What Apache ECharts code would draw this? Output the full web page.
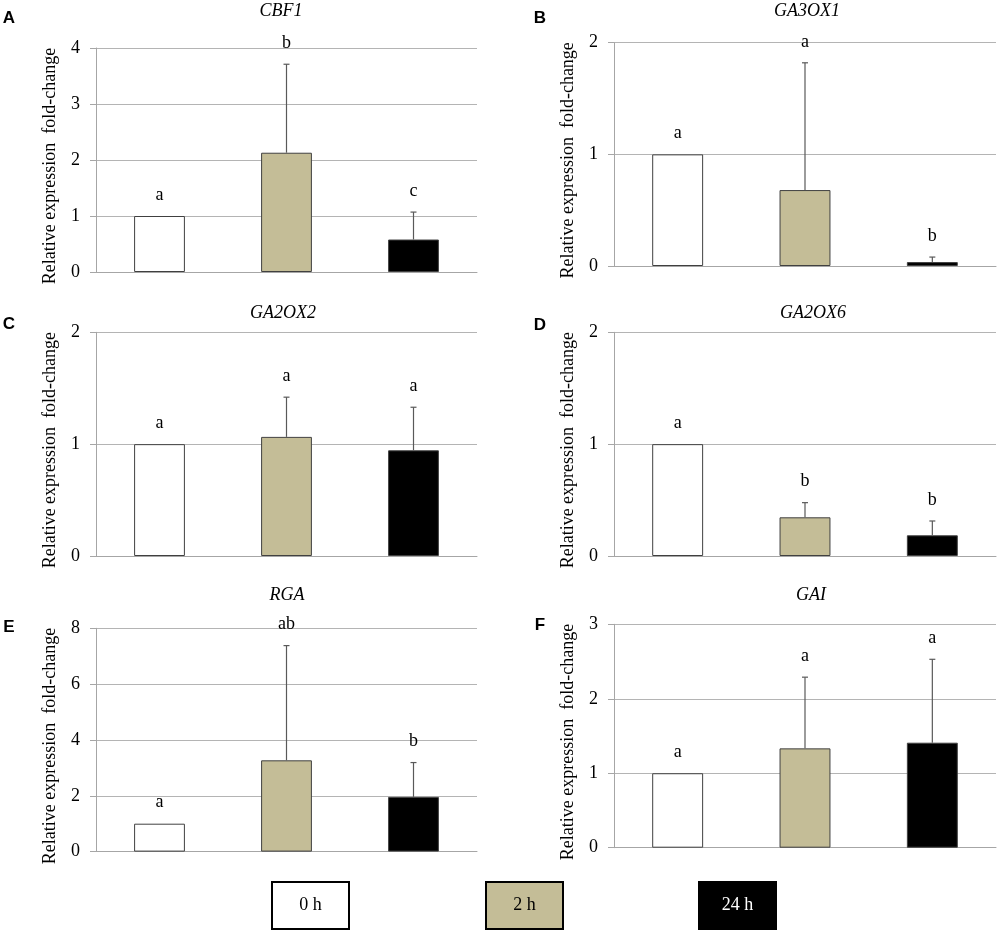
<!DOCTYPE html>
<html><head><meta charset="utf-8">
<script src="https://cdn.jsdelivr.net/npm/echarts@6/dist/echarts.min.js"></script>
<style>html,body{margin:0;padding:0;background:#fff}#c{width:1000px;height:934px}</style>
</head><body><div id="c"></div>
<script>
// ---- data ----
const categories = ['0 h', '2 h', '24 h'];
const genes = ['CBF1', 'GA3OX1', 'GA2OX2', 'GA2OX6', 'RGA', 'GAI'];
const panelLetters = ['A', 'B', 'C', 'D', 'E', 'F'];
const meanCBF1 = [1, 2.13, 0.58];
const errCBF1 = [0, 1.58, 0.49];
const meanGA3OX1 = [1, 0.68, 0.035];
const errGA3OX1 = [0, 1.14, 0.045];
const meanGA2OX2 = [1, 1.065, 0.945];
const errGA2OX2 = [0, 0.355, 0.385];
const meanGA2OX6 = [1, 0.346, 0.185];
const errGA2OX6 = [0, 0.131, 0.128];
const meanRGA = [1, 3.27, 1.96];
const errRGA = [0, 4.11, 1.23];
const meanGAI = [1, 1.334, 1.41];
const errGAI = [0, 0.956, 1.12];
const sigCBF1 = ['a', 'b', 'c'];
const sigGA3OX1 = ['a', 'a', 'b'];
const sigGA2OX2 = ['a', 'a', 'a'];
const sigGA2OX6 = ['a', 'b', 'b'];
const sigRGA = ['a', 'ab', 'b'];
const sigGAI = ['a', 'a', 'a'];
const yMax = [4, 2, 2, 2, 8, 3];
const yInterval = [1, 1, 1, 1, 2, 1];

const means = [meanCBF1, meanGA3OX1, meanGA2OX2, meanGA2OX6, meanRGA, meanGAI];
const errs = [errCBF1, errGA3OX1, errGA2OX2, errGA2OX6, errRGA, errGAI];
const sigs = [sigCBF1, sigGA3OX1, sigGA2OX2, sigGA2OX6, sigRGA, sigGAI];

// ---- layout / style ----
const barColors = ['#ffffff', '#c4bd97', '#000000'];
const gridBoxes = [
  {left: 96, top: 48, width: 381, height: 224},
  {left: 614, top: 42.7, width: 382, height: 223.3},
  {left: 96, top: 332.3, width: 381, height: 223.7},
  {left: 614, top: 332.3, width: 382, height: 223.7},
  {left: 96, top: 628.3, width: 381, height: 223.3},
  {left: 614, top: 624.3, width: 382, height: 223.4}
];
const titlePos = [[281, 11], [807, 11], [283, 313], [813, 313], [287, 595], [811, 595]];
const labelPos = [[9, 18], [540, 18], [9, 324], [540, 325], [9, 627], [540, 625]];
const serif = '"Liberation Serif", "Times New Roman", serif';
const sans = '"Liberation Sans", Arial, sans-serif';

const grid = [], xAxis = [], yAxis = [], series = [], graphic = [];
for (let p = 0; p < 6; p++) {
  grid.push(Object.assign({containLabel: false}, gridBoxes[p]));
  xAxis.push({
    type: 'category', gridIndex: p, data: categories,
    axisLine: {show: true, lineStyle: {color: '#a6a6a6', width: 1}},
    axisTick: {show: false}, axisLabel: {show: false}
  });
  yAxis.push({
    type: 'value', gridIndex: p, min: 0, max: yMax[p], interval: yInterval[p],
    name: 'Relative expression  fold-change', nameLocation: 'middle', nameGap: 37,
    nameTextStyle: {fontFamily: serif, fontSize: 18, color: '#000', padding: [0, 12, 0, 0]},
    axisLine: {show: true, lineStyle: {color: '#a6a6a6', width: 1}},
    axisTick: {show: true, length: 6, lineStyle: {color: '#a6a6a6'}},
    axisLabel: {fontFamily: serif, fontSize: 18, color: '#000', margin: 16},
    splitLine: {show: true, lineStyle: {color: '#b4b4b4', width: 1}}
  });
  series.push({
    type: 'bar', xAxisIndex: p, yAxisIndex: p, barWidth: '40%',
    data: means[p].map((v, i) => ({value: v, itemStyle: {color: barColors[i]}})),
    itemStyle: {borderColor: '#404040', borderWidth: 1},
    emphasis: {disabled: true}, animation: false
  });
  const letters = sigs[p];
  series.push({
    type: 'custom', xAxisIndex: p, yAxisIndex: p, z: 5, animation: false,
    encode: {x: 0, y: 1},
    data: means[p].map((v, i) => [i, v, errs[p][i]]),
    renderItem: function (params, api) {
      const i = api.value(0), m = api.value(1), e = api.value(2);
      const base = api.coord([i, m]);
      const top = api.coord([i, m + e]);
      const children = [];
      if (e > 0) {
        children.push({type: 'line', shape: {x1: base[0], y1: base[1], x2: top[0], y2: top[1]},
          style: {stroke: '#595959', lineWidth: 1.2}});
        children.push({type: 'line', shape: {x1: top[0] - 3, y1: top[1], x2: top[0] + 3, y2: top[1]},
          style: {stroke: '#595959', lineWidth: 1.2}});
      }
      children.push({type: 'text', style: {text: letters[params.dataIndex], x: top[0], y: top[1] - 21,
        align: 'center', verticalAlign: 'middle', font: '18px ' + serif, fill: '#000'}});
      return {type: 'group', children: children};
    }
  });
  graphic.push({type: 'text', x: titlePos[p][0], y: titlePos[p][1],
    style: {text: genes[p], align: 'center', verticalAlign: 'middle', font: 'italic 18px ' + serif, fill: '#000'}});
  graphic.push({type: 'text', x: labelPos[p][0], y: labelPos[p][1],
    style: {text: panelLetters[p], align: 'center', verticalAlign: 'middle', font: 'bold 17px ' + sans, fill: '#000'}});
}
// legend boxes
const legendX = [272, 486, 699];
for (let i = 0; i < 3; i++) {
  graphic.push({type: 'rect', shape: {x: legendX[i], y: 882, width: 77, height: 47},
    style: {fill: barColors[i], stroke: '#000', lineWidth: 2}});
  graphic.push({type: 'text', x: legendX[i] + 38.5, y: 905.5,
    style: {text: categories[i], align: 'center', verticalAlign: 'middle', font: '18px ' + serif,
      fill: i === 2 ? '#fff' : '#000'}});
}

const chart = echarts.init(document.getElementById('c'), null, {renderer: 'canvas'});
chart.setOption({backgroundColor: '#fff', animation: false, grid, xAxis, yAxis, series, graphic});
</script></body></html>
